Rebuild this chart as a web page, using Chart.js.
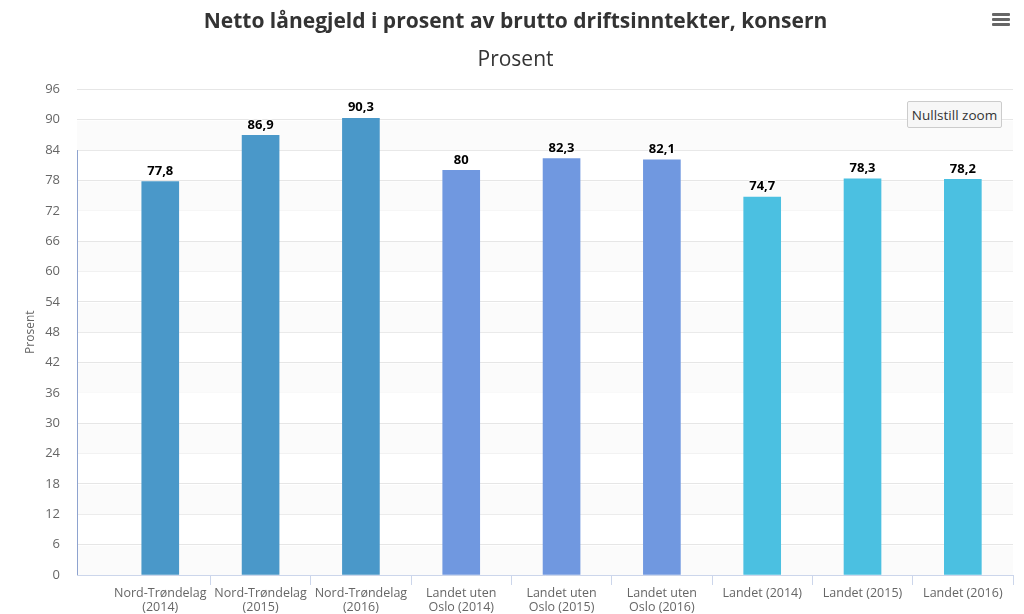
<!DOCTYPE html>
<html>
<head>
<meta charset="utf-8">
<script src="https://cdn.jsdelivr.net/npm/chart.js@4"></script>
<style>
  body { margin: 0; background: #fff; }
  #wrap { position: relative; width: 1024px; height: 614px; }
  #menu { position: absolute; left: 992px; top: 13px; width: 18px; }
  #menu div { height: 3px; background: #666; margin-bottom: 2px; border-radius: 1px; }
  #reset {
    position: absolute; left: 907px; top: 101px; width: 95px; height: 27px;
    background: #f7f7f7; border: 1px solid #ccc; border-radius: 2px;
    font: 13.5px "Open Sans", sans-serif; color: #333; padding: 0; box-sizing: border-box;
  }
</style>
</head>
<body>
<div id="wrap">
  <canvas id="myChart" width="1024" height="614"></canvas>
  <div id="menu"><div></div><div></div><div></div></div>
  <button id="reset">Nullstill zoom</button>
</div>
<script>
// categories split in lines like the axis shows them
const categories = [
  ['Nord-Trøndelag', '(2014)'],
  ['Nord-Trøndelag', '(2015)'],
  ['Nord-Trøndelag', '(2016)'],
  ['Landet uten', 'Oslo (2014)'],
  ['Landet uten', 'Oslo (2015)'],
  ['Landet uten', 'Oslo (2016)'],
  ['Landet (2014)'],
  ['Landet (2015)'],
  ['Landet (2016)']
];
const values = [77.8, 86.9, 90.3, 80, 82.3, 82.1, 74.7, 78.3, 78.2];
const barColors = ['#4a98c9', '#4a98c9', '#4a98c9', '#7098e0', '#7098e0', '#7098e0', '#4bc0e1', '#4bc0e1', '#4bc0e1'];
const yTicks = [0, 6, 12, 18, 24, 30, 36, 42, 48, 54, 60, 66, 72, 78, 84, 90, 96];

const fmt = v => String(v).replace('.', ',');

// light alternate bands + the short left axis line
const bands = {
  id: 'bands',
  beforeDatasetsDraw(chart) {
    const { ctx, chartArea, scales } = chart;
    const y = scales.y;
    ctx.save();
    ctx.fillStyle = '#fbfbfb';
    for (let i = 0; i < yTicks.length - 1; i += 2) {
      const top = y.getPixelForValue(yTicks[i + 1]);
      const bot = y.getPixelForValue(yTicks[i]);
      ctx.fillRect(chartArea.left, top + 1, chartArea.right - chartArea.left, bot - top - 1);
    }
    ctx.restore();
  },
  afterDraw(chart) {
    const { ctx, chartArea, scales } = chart;
    ctx.save();
    ctx.strokeStyle = '#8ea3cf';
    ctx.lineWidth = 1;
    ctx.beginPath();
    ctx.moveTo(chartArea.left + 0.5, scales.y.getPixelForValue(84));
    ctx.lineTo(chartArea.left + 0.5, scales.y.getPixelForValue(0));
    ctx.stroke();
    ctx.restore();
  }
};

const valueLabels = {
  id: 'valueLabels',
  afterDatasetsDraw(chart) {
    const ctx = chart.ctx;
    const meta = chart.getDatasetMeta(0);
    ctx.save();
    ctx.font = 'bold 13px "Open Sans", sans-serif';
    ctx.textAlign = 'center';
    ctx.textBaseline = 'bottom';
    ctx.lineJoin = 'round';
    meta.data.forEach((bar, i) => {
      ctx.strokeStyle = 'rgba(255,255,255,0.8)';
      ctx.lineWidth = 2;
      ctx.strokeText(fmt(values[i]), bar.x, bar.y - 4);
      ctx.fillStyle = '#000';
      ctx.fillText(fmt(values[i]), bar.x, bar.y - 4);
    });
    ctx.restore();
  }
};

const data = {
  datasets: [{
    label: 'Prosent',
    data: values.map((v, i) => ({ x: i, y: v })),
    backgroundColor: barColors,
    barThickness: 37
  }]
};

const config = {
  type: 'bar',
  data: data,
  options: {
    responsive: false,
    animation: false,
    layout: { padding: { left: 18, right: 11, top: 0, bottom: 0 } },
    plugins: {
      legend: { display: false },
      tooltip: { enabled: false },
      title: {
        display: true,
        text: 'Netto lånegjeld i prosent av brutto driftsinntekter, konsern',
        color: '#333',
        font: { family: '"Open Sans", sans-serif', size: 21, weight: 'bold', lineHeight: 1.2 },
        padding: { top: 9, bottom: 13 }
      },
      subtitle: {
        display: true,
        text: 'Prosent',
        color: '#333',
        font: { family: '"Open Sans", sans-serif', size: 21, lineHeight: 1.2 },
        padding: { top: 0, bottom: 17 }
      }
    },
    scales: {
      x: {
        type: 'linear',
        offset: false,
        min: -0.83,
        max: 8.5,
        afterBuildTicks: s => { s.ticks = categories.map((c, i) => ({ value: i })); },
        afterFit: s => { s.height = 39; },
        ticks: {
          autoSkip: false,
          maxRotation: 0,
          padding: 1,
          color: '#666',
          font: { family: '"Open Sans", sans-serif', size: 12.5, lineHeight: 1.15 },
          callback: v => categories[v]
        },
        grid: {
          offset: true,
          drawOnChartArea: false,
          tickLength: 10,
          tickColor: c => c.index === 0 ? 'rgba(0,0,0,0)' : '#ccd6eb'
        },
        border: { color: '#ccd6eb' }
      },
      y: {
        min: 0,
        max: 96,
        afterFit: s => { s.width = 59; },
        ticks: {
          stepSize: 6,
          padding: 17,
          color: '#666',
          font: { family: '"Open Sans", sans-serif', size: 13 }
        },
        grid: { color: '#e6e6e6', drawTicks: false },
        border: { display: false },
        title: {
          display: true,
          text: 'Prosent',
          color: '#666',
          font: { family: '"Open Sans", sans-serif', size: 12 },
          padding: { top: 5 }
        }
      }
    }
  },
  plugins: [bands, valueLabels]
};

const myChart = new Chart(document.getElementById('myChart'), config);
</script>
</body>
</html>
